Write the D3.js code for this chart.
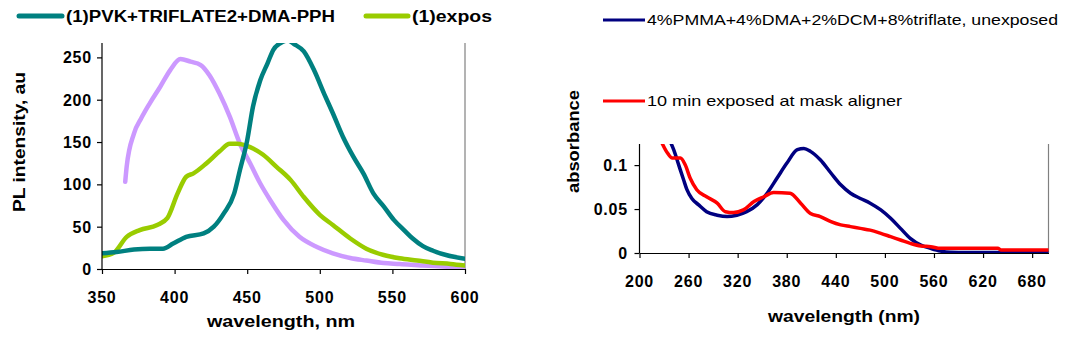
<!DOCTYPE html>
<html><head><meta charset="utf-8">
<script src="https://cdn.jsdelivr.net/npm/d3@7"></script>
<style>body{margin:0;background:#fff}svg{display:block}text{font-family:"Liberation Sans",Arial,sans-serif}</style>
</head><body>
<svg id="c" width="1073" height="360"></svg>
<script>
// ---- Left chart data (PL intensity) ----
const plTicksX = [350, 400, 450, 500, 550, 600];
const plTicksY = [0, 50, 100, 150, 200, 250];
const pvkWl  = [350,360,372,383,392,399,408,420,427,434,441,445,450,454,459,464,468,473,478,482,489,496,503,509,516,523,530,537,544,551,558,564,571,578,587,600];
const pvkVal = [18.5,20,23,24,24,30,38,42,50,66,89,117,152,192,223,243,259,267,270,266,257,235,207,184,156,133,113,89,74,58,46,36,27,21.6,16.5,12];
const expWl  = [350,358,367,376,388,395,402,408,413,422,431,438,443,452,461,470,480,489,500,509,521,532,544,555,567,578,590,600];
const expVal = [15,19,38,46,52,60,89,109,113,125,139,148,148,144,135,121,105,85,64,52,36,24,16.5,12.6,10,7.5,6,4];
const lilWl  = [366,367,372,377,383,390,397,404,411,418,424,431,438,445,452,459,466,475,486,498,509,521,532,544,555,571,590,600];
const lilVal = [103,121,160,178,196,215,235,248,245,241,229,207,180,148,125,101,81,58,38,26,18.5,13,10,7,6,4,2.5,2];
const plLegend = ["(1)PVK+TRIFLATE2+DMA-PPH", "(1)expos"];

// ---- Right chart data (absorbance) ----
const abTicksX = [200, 260, 320, 380, 440, 500, 560, 620, 680];
const abTicksY = [0, 0.05, 0.1];
const unWl  = [236,242,248,254,258,264,272,282,295,307,319,331,344,356,368,380,393,401,409,421,434,446,458,470,482,495,507,519,531,544,556,568,580,600,640,700];
const unVal = [0.13,0.117,0.100,0.083,0.072,0.062,0.055,0.047,0.043,0.0414,0.043,0.047,0.055,0.068,0.085,0.102,0.1175,0.119,0.1156,0.106,0.091,0.0776,0.068,0.062,0.0567,0.049,0.0395,0.028,0.0167,0.009,0.0053,0.0023,0.0008,0.0005,0.0005,0.0005];
const exWl  = [225,234,240,250,256,262,270,282,295,305,315,327,340,352,364,384,397,409,421,434,446,458,470,482,495,507,519,531,544,556,568,589,609,638,642,700];
const exVal = [0.13,0.114,0.108,0.108,0.100,0.085,0.072,0.064,0.0567,0.047,0.046,0.049,0.0586,0.064,0.0688,0.068,0.0567,0.045,0.0414,0.0357,0.032,0.030,0.028,0.026,0.0224,0.0186,0.0148,0.011,0.008,0.0072,0.0053,0.0053,0.0053,0.0053,0.0034,0.0034];
const abLegend = ["4%PMMA+4%DMA+2%DCM+8%triflate, unexposed", "10 min exposed at mask aligner"];

const svg = d3.select("#c");

function txt(g, s, x, y, o) {
  const t = g.append("text").attr("x", x).attr("y", y).text(s)
    .attr("font-size", o.size || 16).attr("font-weight", o.bold ? "bold" : "normal")
    .attr("fill", "#000").attr("text-anchor", o.anchor || "start");
  if (o.len) t.attr("textLength", o.len).attr("lengthAdjust", "spacingAndGlyphs");
  if (o.rot) t.attr("transform", `rotate(-90,${x},${y})`);
  return t;
}

function drawChart(cfg) {
  const x = d3.scaleLinear().domain(cfg.xd).range(cfg.xr);
  const y = d3.scaleLinear().domain(cfg.yd).range(cfg.yr);
  const g = svg.append("g");
  const id = "clip" + cfg.name;
  svg.append("defs").append("clipPath").attr("id", id).append("rect")
    .attr("x", cfg.xr[0]).attr("y", cfg.yr[1]).attr("width", cfg.xr[1] - cfg.xr[0]).attr("height", cfg.yr[0] - cfg.yr[1]);
  // right border
  g.append("line").attr("x1", cfg.xr[1]).attr("x2", cfg.xr[1]).attr("y1", cfg.yr[1]).attr("y2", cfg.yr[0])
    .attr("stroke", "#808080").attr("stroke-width", 1.2);
  // series
  cfg.series.forEach(s => {
    const pts = s.wl.map((w, i) => [w, s.val[i]]);
    g.append("path").datum(pts).attr("clip-path", `url(#${id})`)
      .attr("fill", "none").attr("stroke", s.color).attr("stroke-width", s.width)
      .attr("stroke-linejoin", "round").attr("stroke-linecap", "round")
      .attr("d", d3.line().x(d => x(d[0])).y(d => y(d[1])).curve(d3.curveMonotoneX));
  });
  // axes
  const ax = g.append("g").attr("transform", `translate(0,${cfg.yr[0]})`)
    .call(d3.axisBottom(x).tickValues(cfg.tx).tickSize(5).tickSizeOuter(0).tickFormat(""));
  const ay = g.append("g").attr("transform", `translate(${cfg.xr[0]},0)`)
    .call(d3.axisLeft(y).tickValues(cfg.ty).tickSize(5).tickSizeOuter(0).tickFormat(""));
  [ax, ay].forEach(a => { a.selectAll("path,line").attr("stroke", "#000").attr("stroke-width", 1.2); });
  ay.select(".domain").attr("d", `M0,${cfg.yr[1]}V${cfg.yr[0]}`);
  // tick labels
  cfg.tx.forEach(v => txt(g, String(v), x(v), cfg.xLabY, {bold: true, anchor: "middle", size: 16}).attr("letter-spacing", 0.8));
  cfg.ty.forEach(v => txt(g, String(v), cfg.yLabX, y(v) + 6, {bold: true, anchor: "end", size: 16}).attr("letter-spacing", 0.8));
  return {x, y, g};
}

// Left chart
const L = drawChart({name: "L", xd: [350, 600], xr: [102, 465], yd: [0, 267], yr: [269, 43],
  tx: plTicksX, ty: plTicksY, xLabY: 303, yLabX: 92,
  series: [
    {wl: lilWl, val: lilVal, color: "#CC99FF", width: 4.5},
    {wl: expWl, val: expVal, color: "#99CC00", width: 4.5},
    {wl: pvkWl, val: pvkVal, color: "#008080", width: 4.5}
  ]});
txt(L.g, "wavelength, nm", 207, 327, {bold: true, size: 16, len: 148});
txt(L.g, "PL intensity, au", 25, 212, {bold: true, size: 16, len: 140, rot: true});
// left legend
L.g.append("line").attr("x1", 19).attr("x2", 62).attr("y1", 16).attr("y2", 16).attr("stroke", "#008080").attr("stroke-width", 5).attr("stroke-linecap", "round");
txt(L.g, plLegend[0], 66, 22, {bold: true, size: 16, len: 269});
L.g.append("line").attr("x1", 366).attr("x2", 408).attr("y1", 16).attr("y2", 16).attr("stroke", "#99CC00").attr("stroke-width", 5).attr("stroke-linecap", "round");
txt(L.g, plLegend[1], 412, 22, {bold: true, size: 16, len: 80});

// Right chart
const R = drawChart({name: "R", xd: [200, 700], xr: [639.5, 1048.5], yd: [0, 0.124], yr: [253, 144],
  tx: abTicksX, ty: abTicksY, xLabY: 287, yLabX: 628,
  series: [
    {wl: unWl, val: unVal, color: "#000080", width: 3.5},
    {wl: exWl, val: exVal, color: "#FF0000", width: 3.5}
  ]});
txt(R.g, "wavelength (nm)", 768, 322, {bold: true, size: 16, len: 152});
txt(R.g, "absorbance", 579, 193, {bold: true, size: 16, len: 103, rot: true});
R.g.append("line").attr("x1", 603).attr("x2", 645).attr("y1", 20).attr("y2", 20).attr("stroke", "#000080").attr("stroke-width", 3);
txt(R.g, abLegend[0], 647, 25, {size: 15, len: 411});
R.g.append("line").attr("x1", 603).attr("x2", 645).attr("y1", 101).attr("y2", 101).attr("stroke", "#FF0000").attr("stroke-width", 3);
txt(R.g, abLegend[1], 647, 106, {size: 15, len: 255});
</script>
</body></html>
